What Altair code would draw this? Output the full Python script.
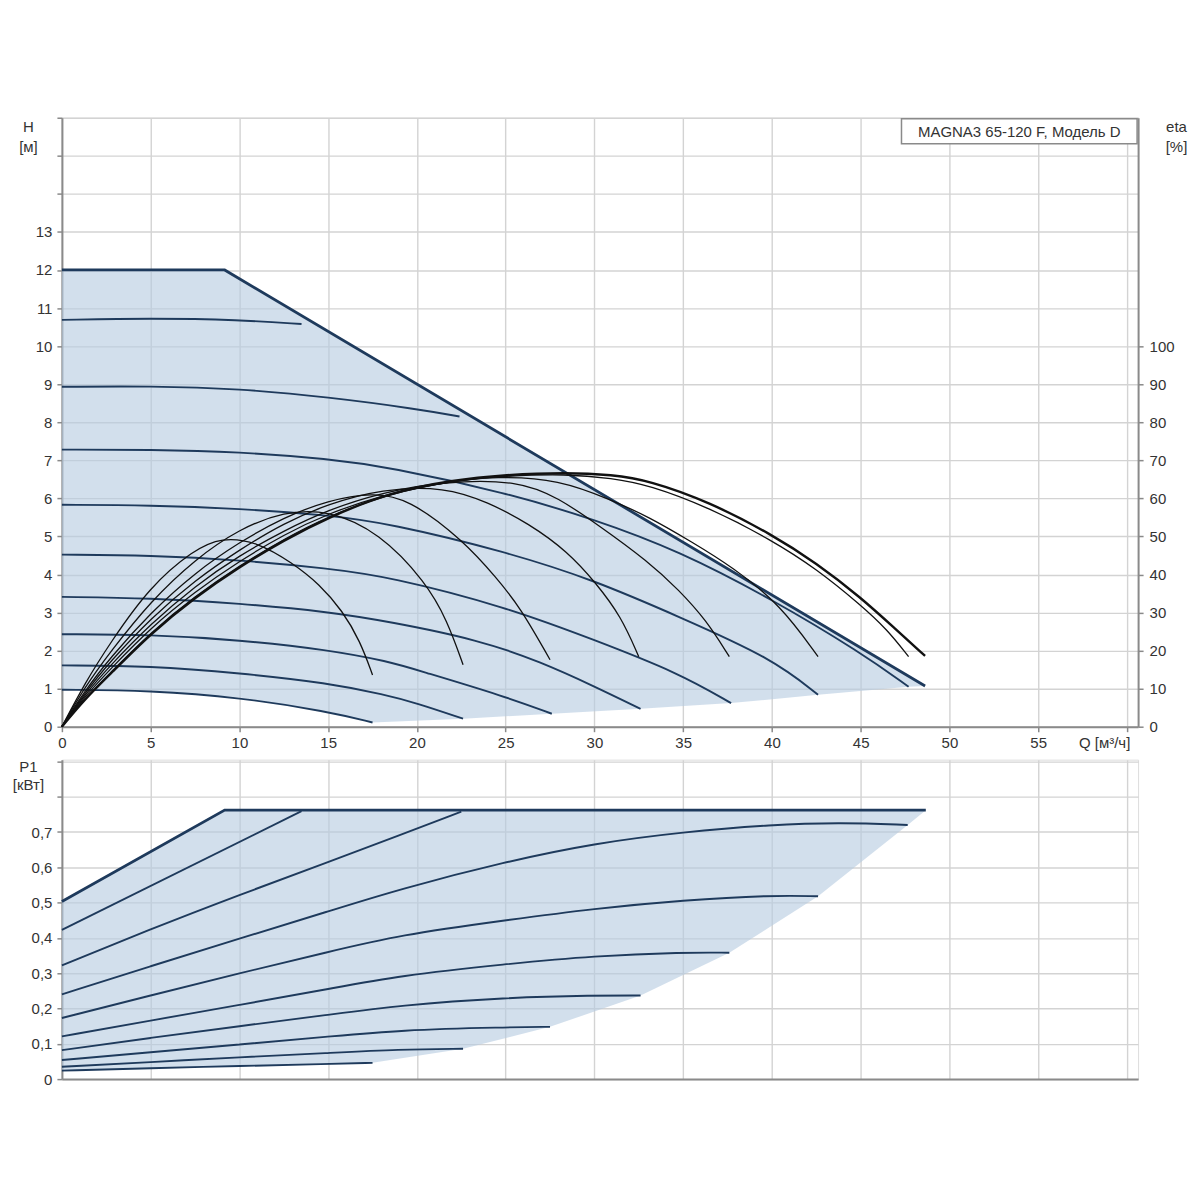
import altair as alt
import pandas as pd

# ---------------- data ----------------
BOX_LABEL = "MAGNA3 65-120 F, Модель D"

Q_TICKS = [0, 5, 10, 15, 20, 25, 30, 35, 40, 45, 50, 55, 60]
H_TICKS = list(range(0, 17))
ETA_TICKS = [0, 10, 20, 30, 40, 50, 60, 70, 80, 90, 100]
P_TICKS = [0, 0.1, 0.2, 0.3, 0.4, 0.5, 0.6, 0.7, 0.8, 0.9]

# Head curves H [m] vs Q [m3/h]
Q_HMAX = [0, 9.17, 48.63]
H_HMAX = [12.0, 12.0, 1.07]

Q_H1 = [0, 5, 10, 13.5]
H_H1 = [10.69, 10.73, 10.69, 10.58]
Q_H2 = [0, 5, 10, 15, 20, 22.4]
H_H2 = [8.93, 8.95, 8.88, 8.66, 8.35, 8.15]
Q_H3 = [0, 5, 10, 15, 18.45, 25, 30, 34.76, 40, 45, 47.7]
H_H3 = [7.28, 7.28, 7.22, 7.04, 6.82, 6.15, 5.45, 4.62, 3.35, 1.95, 1.05]
Q_H4 = [0, 5, 10, 15, 18.45, 25, 30, 34.76, 40, 42.6]
H_H4 = [5.83, 5.82, 5.73, 5.56, 5.34, 4.6, 3.85, 2.89, 1.8, 0.84]
Q_H5 = [0, 5, 10, 15, 18.45, 25, 30, 34.76, 37.7]
H_H5 = [4.52, 4.5, 4.38, 4.16, 3.94, 3.15, 2.28, 1.41, 0.62]
Q_H6 = [0, 5, 10, 15, 18.45, 23.5, 27, 30, 32.6]
H_H6 = [3.41, 3.38, 3.24, 3.02, 2.76, 2.28, 1.7, 1.06, 0.47]
Q_H7 = [0, 5, 10, 15, 18.45, 20, 25, 27.6]
H_H7 = [2.43, 2.42, 2.28, 2.02, 1.71, 1.49, 0.79, 0.34]
Q_H8 = [0, 5, 10, 15, 18.2, 20, 22.6]
H_H8 = [1.61, 1.6, 1.41, 1.15, 0.84, 0.62, 0.21]
Q_H9 = [0, 5, 10, 15, 17.5]
H_H9 = [0.97, 0.95, 0.77, 0.40, 0.11]

# Operating area (head)
Q_HAREA = [0, 5, 9.17, 10, 15, 17.5, 22.6, 27.6, 32.6, 37.7, 42.6, 47.7, 48.63]
H_HAREA_TOP = [12, 12, 12, 11.77, 10.38, 9.69, 8.27, 6.88, 5.5, 4.08, 2.72, 1.31, 1.07]
H_HAREA_BOT = [0.97, 0.95, 0.8, 0.77, 0.40, 0.11, 0.21, 0.34, 0.47, 0.62, 0.84, 1.05, 1.07]

# Efficiency curves eta [%]
Q_EA = [0, 1.3, 2.7, 4.95, 7.4, 9, 11, 13, 14.5, 15.8, 16.8, 17.5]
E_EA = [0, 11.5, 21.9, 36.8, 46.4, 49.8, 48.6, 43, 37.5, 30.5, 22.5, 13.6]
Q_EB = [0, 1.3, 2.7, 5, 7.5, 10, 12.5, 15, 17.9, 20.5, 21.7, 22.6]
E_EB = [0, 10.5, 19.5, 33, 44, 52, 56.5, 57, 51, 38, 28, 16.3]
Q_EC = [0, 1.3, 2.7, 5, 7.5, 10, 12.5, 15, 17.5, 19.5, 22.6, 24.5, 25.8, 27.5]
E_EC = [0, 9.5, 18, 30, 40.5, 48.5, 55, 59.5, 61.5, 60, 49, 39, 31.5, 17.6]
Q_ED = [0, 1.3, 2.7, 5, 7.5, 10, 12.5, 15, 18, 21.6, 24, 26.3, 28.5, 30.1, 31.5, 32.5]
E_ED = [0, 9, 17, 28.5, 38.5, 46.5, 53.5, 58.5, 62.5, 63, 59, 53.4, 46, 37.7, 29, 18.4]
Q_EE = [0, 1.3, 2.7, 5, 7.5, 10, 12.5, 15, 18, 21.5, 25.8, 28, 30.1, 33.07, 34.76, 36.3, 37.6]
E_EE = [0, 8.5, 16, 27, 37, 45, 51.5, 57, 61.5, 64.5, 64.7, 60, 53.4, 43.3, 35.9, 28, 18.4]
Q_EF = [0, 1.3, 2.7, 5, 7.5, 10, 12.5, 15, 18, 21.5, 24.5, 28, 31, 33.07, 35.5, 37.76, 40.5, 42.6]
E_EF = [0, 8, 15, 26, 35.5, 43.5, 50.5, 56, 60.8, 64.3, 65.8, 65, 59.5, 55.1, 48.5, 42, 32, 18.4]
Q_EG = [0, 1.3, 2.7, 5, 7.5, 10, 12.5, 15, 18.45, 22, 25, 28.4, 31, 33.07, 36.5, 40, 42.5, 45, 46.5, 47.7]
E_EG = [0, 7.5, 14, 24.8, 34.3, 42.3, 49.3, 55.3, 61.3, 64.6, 65.9, 66.4, 65.3, 63.5, 57.5, 49, 41.5, 32, 25.5, 18.4]
Q_EH = [0, 1.3, 2.7, 5, 7.5, 10, 12.5, 15, 18.45, 22, 25, 28.4, 31, 33.07, 36.5, 40, 42.5, 45, 47, 48.63]
E_EH = [0, 7.3, 13.7, 24.5, 34, 42, 49, 55, 61.5, 64.8, 66.2, 66.8, 66.2, 64.7, 59, 50.5, 43, 34, 25.5, 18.6]

# Power curves P1 [kW]
Q_PMAX = [0, 9.17, 48.67]
P_PMAX = [0.503, 0.762, 0.762]
Q_P1 = [0, 13.5]
P_P1 = [0.423, 0.759]
Q_P2 = [0, 5, 10, 15, 19, 22.5]
P_P2 = [0.322, 0.425, 0.522, 0.615, 0.69, 0.758]
Q_P3 = [0, 5, 10, 15, 19, 25, 30, 35, 40, 43.9, 47.65]
P_P3 = [0.240, 0.32, 0.398, 0.475, 0.538, 0.616, 0.668, 0.70, 0.721, 0.727, 0.72]
Q_P4 = [0, 5, 10, 15, 19, 25, 30, 35, 40, 42.6]
P_P4 = [0.173, 0.237, 0.30, 0.36, 0.408, 0.45, 0.483, 0.507, 0.521, 0.518]
Q_P5 = [0, 5, 10, 15, 19, 25, 30, 35, 37.6]
P_P5 = [0.121, 0.166, 0.21, 0.255, 0.293, 0.326, 0.349, 0.359, 0.358]
Q_P6 = [0, 5, 10, 15, 19, 25, 30, 32.6]
P_P6 = [0.082, 0.117, 0.15, 0.182, 0.209, 0.231, 0.237, 0.237]
Q_P7 = [0, 5, 10, 15, 19, 25, 27.5]
P_P7 = [0.054, 0.076, 0.098, 0.12, 0.139, 0.147, 0.148]
Q_P8 = [0, 5, 10, 15, 19, 22.6]
P_P8 = [0.035, 0.048, 0.062, 0.074, 0.084, 0.086]
Q_P9 = [0, 5, 10, 15, 17.5]
P_P9 = [0.024, 0.031, 0.037, 0.043, 0.046]

Q_PAREA = [0, 5, 9.17, 10, 15, 17.5, 22.6, 27.5, 32.6, 37.6, 42.6, 47.65, 48.67]
P_PAREA_TOP = [0.503, 0.643, 0.762, 0.762, 0.762, 0.762, 0.762, 0.762, 0.762, 0.762, 0.762, 0.762, 0.762]
P_PAREA_BOT = [0.024, 0.031, 0.036, 0.037, 0.043, 0.046, 0.086, 0.148, 0.237, 0.358, 0.518, 0.72, 0.762]

# ---------------- build tables ----------------
def curves(pairs, vname):
    frames = []
    for name, q, v in pairs:
        frames.append(pd.DataFrame({"Q": q, vname: v, "curve": name}))
    return pd.concat(frames, ignore_index=True)

df_h = curves([("h1", Q_H1, H_H1), ("h2", Q_H2, H_H2), ("h3", Q_H3, H_H3),
               ("h4", Q_H4, H_H4), ("h5", Q_H5, H_H5), ("h6", Q_H6, H_H6),
               ("h7", Q_H7, H_H7), ("h8", Q_H8, H_H8), ("h9", Q_H9, H_H9)], "H")
df_hmax = pd.DataFrame({"Q": Q_HMAX, "H": H_HMAX})
df_harea = pd.DataFrame({"Q": Q_HAREA, "top": H_HAREA_TOP, "bot": H_HAREA_BOT})

df_eta = curves([("a", Q_EA, E_EA), ("b", Q_EB, E_EB), ("c", Q_EC, E_EC),
                 ("d", Q_ED, E_ED), ("e", Q_EE, E_EE), ("f", Q_EF, E_EF),
                 ("g", Q_EG, E_EG)], "eta")
df_etah = pd.DataFrame({"Q": Q_EH, "eta": E_EH})

df_p = curves([("p1", Q_P1, P_P1), ("p2", Q_P2, P_P2), ("p3", Q_P3, P_P3),
               ("p4", Q_P4, P_P4), ("p5", Q_P5, P_P5), ("p6", Q_P6, P_P6),
               ("p7", Q_P7, P_P7), ("p8", Q_P8, P_P8), ("p9", Q_P9, P_P9)], "P")
df_pmax = pd.DataFrame({"Q": Q_PMAX, "P": P_PMAX})
df_parea = pd.DataFrame({"Q": Q_PAREA, "top": P_PAREA_TOP, "bot": P_PAREA_BOT})

# ---------------- styling ----------------
NAVY = "#1e3a5c"
FILL = "#b6cbe0"
FONT = "Liberation Sans"
W = 1078
H_TOP = 610
H_BOT = 320

common = dict(labelFont=FONT, labelFontSize=15, labelColor="#333333",
              titleFont=FONT, titleFontSize=15, titleFontWeight="normal",
              titleColor="#333333", gridColor="#d3d3d3", gridWidth=1.4,
              domainColor="#8a8a8a", domainWidth=2, tickColor="#8a8a8a",
              tickSize=5, tickWidth=1.5, labelFlush=False, labelOverlap=False)

xs = alt.Scale(domain=[0, 60.63], nice=False, zero=False)
hs = alt.Scale(domain=[0, 16], nice=False)
es = alt.Scale(domain=[0, 160], nice=False)
ps = alt.Scale(domain=[0, 0.905], nice=False)

x_axis_top = alt.Axis(values=Q_TICKS, labelExpr="datum.value >= 60 ? '' : datum.label",
                      title="Q [м³/ч]", titleX=1044, titleY=21, titleAlign="center",
                      titleBaseline="alphabetic", labelPadding=4, **common)
h_axis = alt.Axis(values=H_TICKS, labelExpr="datum.value > 13 ? '' : datum.label",
                  title=["H", "[м]"], titleAngle=0, titleAlign="center", titleBaseline="top",
                  titleX=-34, titleY=2, titleLineHeight=20, labelPadding=5, **common)
eta_axis = alt.Axis(values=ETA_TICKS, orient="right", grid=False,
                    title=["eta", "[%]"], titleAngle=0, titleAlign="center", titleBaseline="top",
                    titleX=38, titleY=2, titleLineHeight=20, labelPadding=6, **common)
x_axis_bot = alt.Axis(values=Q_TICKS, labels=False, ticks=False, title=None, **common)
p_axis = alt.Axis(values=P_TICKS,
                  labelExpr="datum.value > 0.75 ? '' : (datum.value == 0 ? '0' : replace(format(datum.value, '.1f'), '.', ','))",
                  title=["P1", "[кВт]"], titleAngle=0, titleAlign="center", titleBaseline="top",
                  titleX=-34, titleY=0, titleLineHeight=18, labelPadding=5, **common)

# ---------------- top panel ----------------
XT = alt.X("Q:Q", scale=xs, axis=x_axis_top)
h_fill = alt.Chart(df_harea).mark_area(color=FILL, opacity=0.62).encode(
    x=XT, y=alt.Y("top:Q", scale=hs, axis=h_axis), y2="bot:Q")
h_lines = alt.Chart(df_h).mark_line(color=NAVY, strokeWidth=1.9, interpolate="basis").encode(
    x=XT, y=alt.Y("H:Q", scale=hs, axis=h_axis), detail="curve:N")
h_max = alt.Chart(df_hmax).mark_line(color=NAVY, strokeWidth=2.8).encode(
    x=XT, y=alt.Y("H:Q", scale=hs, axis=h_axis))
head = alt.layer(h_fill, h_lines, h_max)

eta_lines = alt.Chart(df_eta).mark_line(color="#111111", strokeWidth=1.3, interpolate="basis").encode(
    x=XT, y=alt.Y("eta:Q", scale=es, axis=eta_axis), detail="curve:N")
eta_h = alt.Chart(df_etah).mark_line(color="#111111", strokeWidth=2.4, interpolate="basis").encode(
    x=XT, y=alt.Y("eta:Q", scale=es, axis=eta_axis))
eta = alt.layer(eta_lines, eta_h)

label_df = pd.DataFrame({"label": [BOX_LABEL]})
box = alt.Chart(label_df).mark_rect(fill="white", stroke="#8a8a8a", strokeWidth=1.5).encode(
    x=alt.value(841), x2=alt.value(1077), y=alt.value(1), y2=alt.value(26))
box_text = alt.Chart(label_df).mark_text(font=FONT, fontSize=15, color="#333333",
                                         align="center", baseline="middle").encode(
    x=alt.value(959), y=alt.value(14), text="label:N")

top = alt.layer(head, eta, box, box_text).resolve_scale(y="independent").properties(
    width=W, height=H_TOP)

# ---------------- bottom panel ----------------
XB = alt.X("Q:Q", scale=xs, axis=x_axis_bot)
p_fill = alt.Chart(df_parea).mark_area(color=FILL, opacity=0.62).encode(
    x=XB, y=alt.Y("top:Q", scale=ps, axis=p_axis), y2="bot:Q")
p_lines = alt.Chart(df_p).mark_line(color=NAVY, strokeWidth=1.9, interpolate="basis").encode(
    x=XB, y=alt.Y("P:Q", scale=ps, axis=p_axis), detail="curve:N")
p_max = alt.Chart(df_pmax).mark_line(color=NAVY, strokeWidth=2.8).encode(
    x=XB, y=alt.Y("P:Q", scale=ps, axis=p_axis))
bottom = alt.layer(p_fill, p_lines, p_max).properties(width=W, height=H_BOT)

chart = alt.vconcat(top, bottom, spacing=33, bounds="flush").properties(
    padding={"left": 3, "top": 101, "right": 4, "bottom": 4}
).configure_view(stroke="#a8a8a8", strokeWidth=1.5).configure(background="white")

chart.save("out.html", embed_options={"renderer": "svg", "actions": False})
